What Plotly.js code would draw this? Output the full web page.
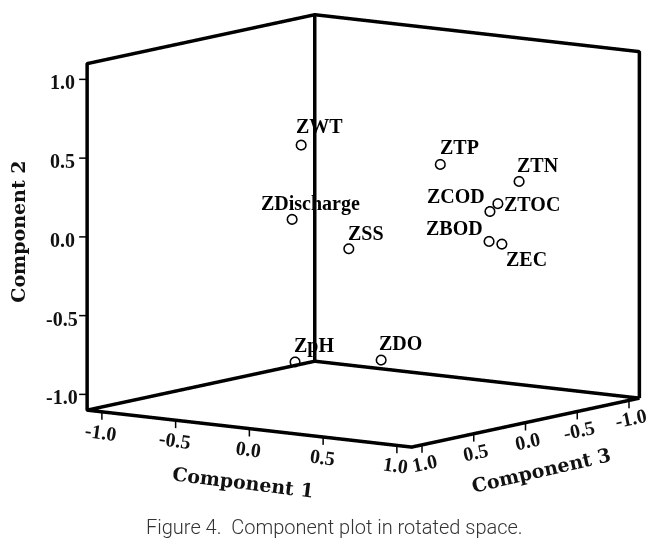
<!DOCTYPE html>
<html>
<head>
<meta charset="utf-8">
<script src="https://cdn.plot.ly/plotly-3.0.1.min.js"></script>
<style>
html, body { margin: 0; padding: 0; background: #fff; }
#chart { width: 669px; height: 545px; }
</style>
</head>
<body>
<div id="chart"></div>
<script>
var labels = ['ZWT', 'ZDischarge', 'ZSS', 'ZTP', 'ZTN', 'ZCOD', 'ZTOC', 'ZBOD', 'ZEC', 'ZpH', 'ZDO'];
var comp1 = [-0.10, -0.20, 0.30, 0.85, 0.90, 0.92, 0.95, 0.90, 0.85, -0.30, 0.40];
var comp2 = [0.60, 0.11, 0.00, 0.58, 0.38, 0.235, 0.283, 0.04, -0.01, -0.83, -0.72];
var comp3 = [0.46, 0.405, 0.57, 0.47, -0.22, 0.09, 0.056, 0.07, -0.125, 0.234, 0.40];
var tickVals = [-1, -0.5, 0, 0.5, 1];
var tickText = ['-1.0', '-0.5', '0.0', '0.5', '1.0'];
var lo = -1.1, hi = 1.1;

// label offset from its point, in pixels
var labelDx = [19, 19, 18, 20, 19, -34, 34, -34, 25, 19, 20];
var labelDy = [19, 16, 16, 17, 16, 15, 0, 13, -15, 16, 17];

// back walls and floor of the cube
var frameX = [hi, lo, lo, hi, hi, hi, lo, lo, lo, null, lo, lo];
var frameY = [lo, lo, hi, hi, lo, lo, lo, hi, hi, null, lo, lo];
var frameZ = [lo, lo, lo, lo, lo, hi, hi, hi, lo, null, lo, hi];

var tickX = [], tickY = [], tickZ = [];
var notes = [];
var tickFont = {family: 'Liberation Serif', size: 20, color: '#111', weight: 'bold'};

function addTick(x0, y0, z0, x1, y1, z1) {
    tickX.push(x0, x1, null);
    tickY.push(y0, y1, null);
    tickZ.push(z0, z1, null);
}

function addNote(x, y, z, text, dx, dy, angle) {
    notes.push({x: x, y: y, z: z, text: text, showarrow: false, xshift: dx, yshift: dy, textangle: angle, font: tickFont});
}

for (var i = 0; i < tickVals.length; i++) {
    var v = tickVals[i];
    // Component 1 along the front left edge
    addTick(hi, v, lo, hi, v, lo - 0.05);
    addNote(hi, v, lo, tickText[i], -1, -20, 8);
    // Component 3 along the front right edge
    addTick(v, hi, lo, v, hi, lo - 0.05);
    addNote(v, hi, lo, tickText[i], 2, -18, -12);
    // Component 2 up the left edge
    addTick(hi, lo, v, hi + 0.027, lo - 0.035, v);
    addNote(hi, lo, v, tickText[i], -25, -3, 0);
}

for (var j = 0; j < labels.length; j++) {
    notes.push({x: comp3[j], y: comp1[j], z: comp2[j], text: labels[j], showarrow: false, xshift: labelDx[j], yshift: labelDy[j],
        font: {family: 'Liberation Serif', size: 20, color: '#000', weight: 'bold'}});
}

function axis() {
    return {
        title: {text: ''},
        range: [-1.2, 1.2],
        showticklabels: false,
        ticks: '',
        showgrid: false,
        zeroline: false,
        showline: false,
        showbackground: false,
        showspikes: false
    };
}

var frame = {
    type: 'scatter3d',
    mode: 'lines',
    x: frameX,
    y: frameY,
    z: frameZ,
    line: {color: '#000', width: 7},
    hoverinfo: 'skip'
};

var ticks = {
    type: 'scatter3d',
    mode: 'lines',
    x: tickX,
    y: tickY,
    z: tickZ,
    line: {color: '#000', width: 3},
    hoverinfo: 'skip'
};

var points = {
    type: 'scatter3d',
    mode: 'markers',
    x: comp3,
    y: comp1,
    z: comp2,
    text: labels,
    marker: {symbol: 'circle-open', size: 6, color: '#000', line: {color: '#000', width: 2}}
};

var k = 2;
var dir = [0.7985, 0.5811, 0.1564];
var center = {x: 0.0813, y: -0.0712, z: -0.1508};

var titleFont = {family: 'DejaVu Serif', size: 19, color: '#111', weight: 'bold'};

var layout = {
    width: 669,
    height: 545,
    margin: {l: 0, r: 0, t: 0, b: 0},
    paper_bgcolor: '#fff',
    showlegend: false,
    scene: {
        domain: {x: [0, 1], y: [0, 1]},
        aspectmode: 'manual',
        aspectratio: {x: 1.549, y: 1.607, z: 1.4045},
        camera: {
            projection: {type: 'orthographic'},
            eye: {x: center.x + k * dir[0], y: center.y + k * dir[1], z: center.z + k * dir[2]},
            center: center,
            up: {x: 0, y: 0, z: 1}
        },
        xaxis: axis(),
        yaxis: axis(),
        zaxis: axis(),
        annotations: notes
    },
    annotations: [
        {text: 'Figure 4.  Component plot in rotated space.', xref: 'paper', yref: 'paper', x: 0.5, y: 0.033, xanchor: 'center', yanchor: 'middle', showarrow: false,
         font: {family: 'Roboto', size: 20, color: '#333', weight: 300}},
        {text: 'Component 1', xref: 'paper', yref: 'paper', x: 0.363, y: 0.116, xanchor: 'center', yanchor: 'middle', textangle: 7, showarrow: false, font: titleFont},
        {text: 'Component 3', xref: 'paper', yref: 'paper', x: 0.809, y: 0.138, xanchor: 'center', yanchor: 'middle', textangle: -13, showarrow: false, font: titleFont},
        {text: 'Component 2', xref: 'paper', yref: 'paper', x: 0.027, y: 0.575, xanchor: 'center', yanchor: 'middle', textangle: -90, showarrow: false, font: titleFont}
    ]
};

Plotly.newPlot('chart', [frame, ticks, points], layout, {displayModeBar: false});
</script>
</body>
</html>
